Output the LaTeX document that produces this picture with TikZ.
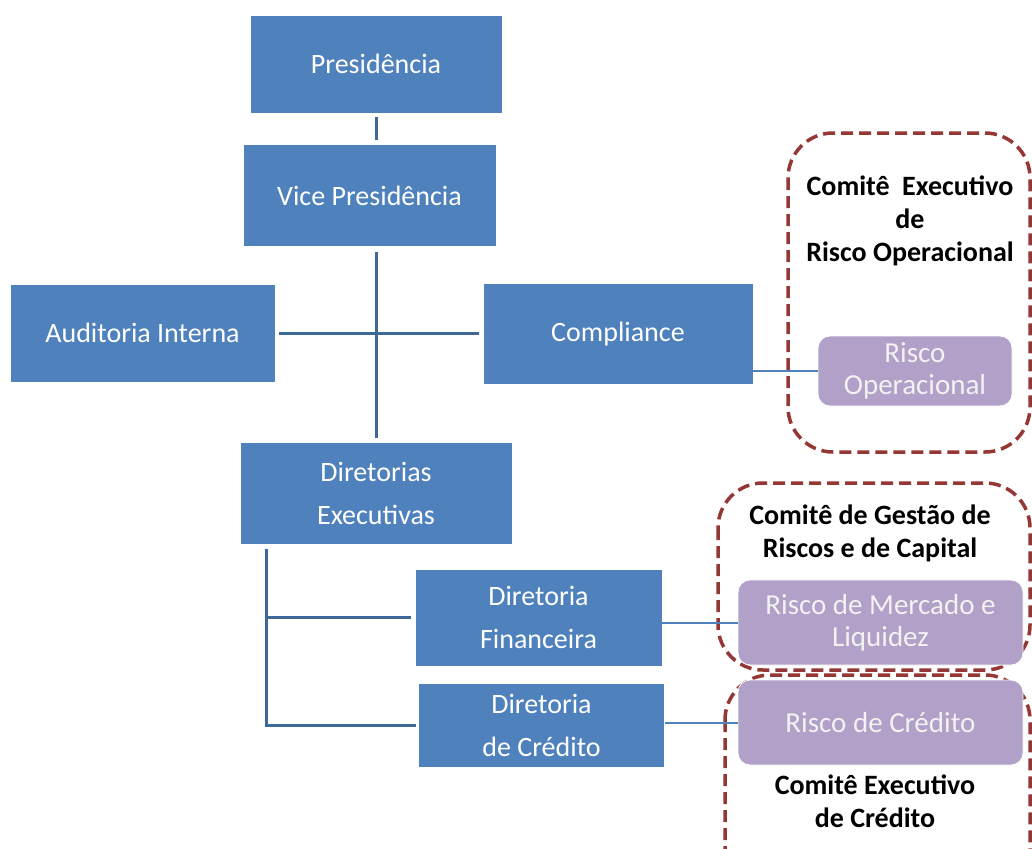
\documentclass[tikz,border=0pt]{standalone}
\usepackage{fontspec}
\setmainfont{Carlito}
\begin{document}
\begin{tikzpicture}[x=1pt,y=-1pt,
  bluebox/.style={fill=boxblue,draw=white,line width=0.8pt,inner sep=0pt,text=white,align=center,font=\fontsize{28}{43}\selectfont},
  purplebox/.style={fill=boxpurple,draw=white,line width=0.8pt,rounded corners=12pt,inner sep=0pt,text=white!95!black,align=center,font=\fontsize{29}{32}\selectfont},
  comtext/.style={inner sep=0pt,align=center,text=black,font=\bfseries\fontsize{28}{33}\selectfont},
  committee/.style={draw=dashred,line width=3.5pt,dash pattern=on 12pt off 6pt,rounded corners=45pt},
  tree/.style={draw=lineblue,line width=3pt},
  side/.style={draw=boxblue,line width=2pt}]
\definecolor{boxblue}{HTML}{4F81BD}
\definecolor{lineblue}{HTML}{3E6898}
\definecolor{boxpurple}{HTML}{B1A0C7}
\definecolor{dashred}{HTML}{953735}
\useasboundingbox[fill=white] (0,0) rectangle (1032,848);
\clip (0,0) rectangle (1032,848);
% committee frames
\draw[committee] (788,133) rectangle (1030,452);
\draw[committee] (718,483) rectangle (1030,670);
\draw[committee] (725,675) rectangle (1030,900);
% blue boxes
\node[bluebox,minimum width=252pt,minimum height=98pt] (pres) at (376,64) {Presidência};
\node[bluebox,minimum width=253pt,minimum height=102pt] (vice) at (369.5,195.5) {Vice Presidência};
\node[bluebox,minimum width=265pt,minimum height=98pt] (aud) at (142.5,333) {Auditoria Interna};
\node[bluebox,minimum width=270pt,minimum height=101pt] (comp) at (618,334) {Compliance};
\node[bluebox,minimum width=272pt,minimum height=102pt] (dirs) at (376,493) {Diretorias\\Executivas};
\node[bluebox,minimum width=247pt,minimum height=97pt] (fin) at (538.5,617.5) {Diretoria\\Financeira};
\node[bluebox,minimum width=246pt,minimum height=84pt] (cred) at (541.5,725) {Diretoria\\de Crédito};
% purple boxes
\node[purplebox,minimum width=194pt,minimum height=70pt] (rop) at (915,371) {Risco\\Operacional};
\node[purplebox,minimum width=285pt,minimum height=85pt] (rmerc) at (880.5,622.5) {Risco de Mercado e\\Liquidez};
\node[purplebox,minimum width=285pt,minimum height=85pt] (rcred) at (880.5,722.5) {Risco de Crédito};
% committee labels
\node[comtext] (com1) at (910,221) {Comitê\ \ Executivo\\de\\Risco Operacional};
\node[comtext] (com2) at (870,533) {Comitê de Gestão de\\Riscos e de Capital};
\node[comtext] (com3) at (875,801) {Comitê Executivo\\de Crédito};
% tree connectors
\draw[tree] ([yshift=-4pt]pres.south) -- ([yshift=4pt]pres.south |- vice.north);
\draw[tree] ([yshift=-5pt]dirs.north |- vice.south) -- ([yshift=4pt]dirs.north);
\draw[tree] ([xshift=4pt]aud.east) -- ([xshift=-4pt]comp.west |- aud.east);
\coordinate (dtop) at (266,549);
\coordinate (dbot) at (266,725);
\draw[tree] (dtop) -- (dbot) -- ([xshift=-2pt]cred.west);
\draw[tree] (dtop |- fin.west) -- ([xshift=-4pt]fin.west);
% side connectors
\draw[side] (comp.east |- rop.west) -- (rop.west);
\draw[side] (fin.east |- rmerc.west) -- (rmerc.west);
\draw[side] (cred.east |- rcred.west) -- (rcred.west);
\end{tikzpicture}
\end{document}
